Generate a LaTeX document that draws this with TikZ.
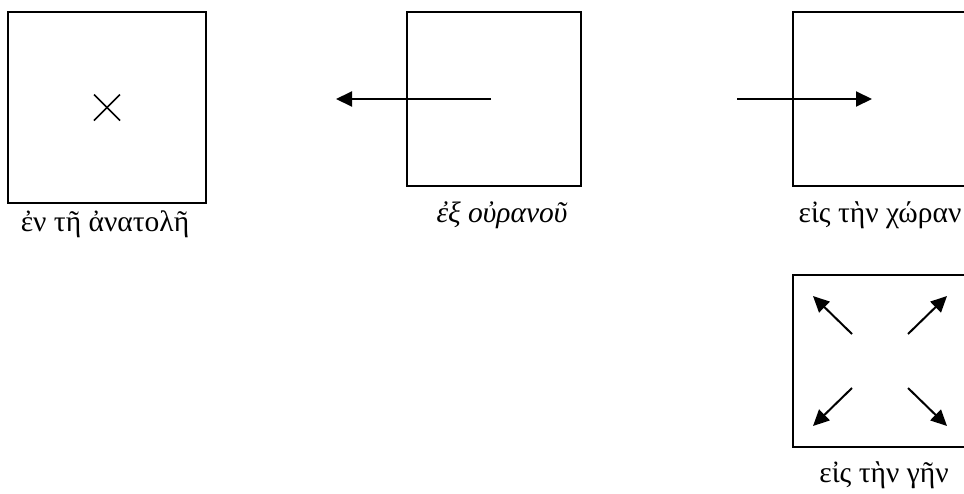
\documentclass[tikz,border=0pt]{standalone}
\usepackage{fontspec}
\setmainfont{Liberation Serif}
\usetikzlibrary{arrows.meta}
\begin{document}
\begin{tikzpicture}[x=1pt,y=-1pt,
  frame/.style={draw,line width=1.8pt,inner sep=0pt,minimum width=174pt,minimum height=174pt},
  lbl/.style={anchor=base,inner sep=0pt,font=\fontsize{29.5}{33}\selectfont},
  arr/.style={line width=2pt,-{Triangle[length=16pt,width=15pt]}},
  cross/.style={line width=1.5pt}]
\useasboundingbox (0,0) rectangle (964,493);
\clip (0,0) rectangle (964,493);
% boxes
\node[frame,minimum width=198pt,minimum height=191pt] (b1) at (107,107.5) {};
\node[frame] (b2) at (494,99) {};
\node[frame] (b3) at (880,99) {};
\node[frame,minimum height=172pt] (b4) at (880,361) {};
% cross
\draw[cross] ([shift={(-13,-13)}]b1.center) -- ([shift={(13,13)}]b1.center);
\draw[cross] ([shift={(-13,13)}]b1.center) -- ([shift={(13,-13)}]b1.center);
% arrows
\coordinate (a2s) at (491,99);
\coordinate (a2e) at (336,99);
\draw[arr] (a2s) -- (a2e);
\coordinate (a3s) at (737,99);
\coordinate (a3e) at (872,99);
\draw[arr] (a3s) -- (a3e);
\coordinate (ulS) at (852,334); \coordinate (ulE) at (813,296);
\coordinate (urS) at (908,334); \coordinate (urE) at (947,296);
\coordinate (llS) at (852,388); \coordinate (llE) at (813,426);
\coordinate (lrS) at (908,388); \coordinate (lrE) at (947,426);
\draw[arr] (ulS) -- (ulE);
\draw[arr] (urS) -- (urE);
\draw[arr] (llS) -- (llE);
\draw[arr] (lrS) -- (lrE);
% labels
\node[lbl] (l1) at (105,231) {ἐν τῆ ἀνατολῆ};
\node[lbl] (l2) at (502,222) {\itshape ἐξ οὐρανοῦ};
\node[lbl] (l3) at (880,222) {εἰς τὴν χώραν};
\node[lbl] (l4) at (884,482) {εἰς τὴν γῆν};
\end{tikzpicture}
\end{document}
